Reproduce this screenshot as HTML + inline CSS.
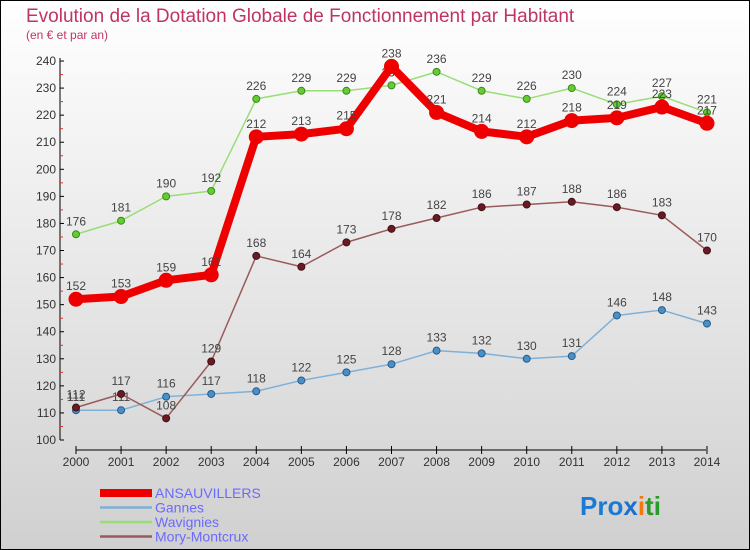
<!DOCTYPE html>
<html><head><meta charset="utf-8"><style>
body{margin:0}
svg{display:block;font-family:"Liberation Sans",sans-serif}
</style></head><body>
<svg width="750" height="550">
<defs><linearGradient id="bg" x1="0" y1="0" x2="0" y2="1"><stop offset="0" stop-color="#ffffff"/><stop offset="1" stop-color="#d0d0d0"/></linearGradient></defs>
<rect x="0.5" y="0.5" width="749" height="549" fill="url(#bg)" stroke="#000"/>
<text x="26" y="22" font-size="19" fill="#c0355f">Evolution de la Dotation Globale de Fonctionnement par Habitant</text>
<text x="26" y="39" font-size="12" fill="#c0355f">(en € et par an)</text>
<g id="axes"></g><g id="series"></g><g id="legend"></g>
<text x="580" y="515" font-size="26" font-weight="bold"><tspan fill="#1a7ad4">Pro</tspan><tspan fill="#1a6fd0">x</tspan><tspan fill="#f07a10">i</tspan><tspan fill="#2a9a2a">ti</tspan></text>
</svg>
<script>
const years=[2000,2001,2002,2003,2004,2005,2006,2007,2008,2009,2010,2011,2012,2013,2014];
const yTicks=[100,110,120,130,140,150,160,170,180,190,200,210,220,230,240];
const ansauvillers=[152,153,159,161,212,213,215,238,221,214,212,218,219,223,217];
const gannes=[111,111,116,117,118,122,125,128,133,132,130,131,146,148,143];
const wavignies=[176,181,190,192,226,229,229,231,236,229,226,230,224,227,221];
const mory=[112,117,108,129,168,164,173,178,182,186,187,188,186,183,170];
const names=["ANSAUVILLERS","Gannes","Wavignies","Mory-Montcrux"];
const NS="http://www.w3.org/2000/svg";
const x=i=>76+i*45.07;
const y=v=>440-(v-100)*2.707;
function mk(p,t,a){const e=document.createElementNS(NS,t);for(const k in a)e.setAttribute(k,a[k]);p.appendChild(e);return e;}
const ax=document.getElementById('axes');
let l=mk(ax,'line',{x1:60,y1:58,x2:60,y2:440,stroke:'#000'});


l=mk(ax,'line',{x1:76,y1:450,x2:706,y2:450,stroke:'#000'});


yTicks.forEach(v=>{
 mk(ax,'line',{x1:60,y1:y(v),x2:64,y2:y(v),stroke:'#000'});
 if(v<240)mk(ax,'line',{x1:60,y1:y(v+5),x2:63,y2:y(v+5),stroke:'#e03030'});
 const t=mk(ax,'text',{x:56,y:y(v)+4,'font-size':12,'text-anchor':'end',fill:'#333'});t.textContent=v;
 
 
});
years.forEach((yr,i)=>{
 mk(ax,'line',{x1:x(i),y1:446,x2:x(i),y2:454,stroke:'#000'});
 const t=mk(ax,'text',{x:x(i),y:466,'font-size':12,'text-anchor':'middle',fill:'#333'});t.textContent=yr;
 
 
});
const sg=document.getElementById('series');
function series(data,color,w,r,dot,name,lc){
 const g=mk(sg,'g',{});
 
 
 mk(g,'polyline',{points:data.map((v,i)=>x(i)+','+y(v)).join(' '),fill:'none',stroke:color,'stroke-width':w,'stroke-linejoin':'round'});
 data.forEach((v,i)=>{
  const c=mk(g,'circle',{cx:x(i),cy:y(v),r:r,fill:dot,stroke:lc,'stroke-width':1});
  
  
  const t=mk(g,'text',{x:x(i),y:y(v)-9,'font-size':12,'text-anchor':'middle',fill:'#444'});t.textContent=v;
  
  
 });
}
series(gannes,'#7fb0d8',1.5,3.5,'#4a90c8','series-gannes','#2a5a88');
series(mory,'#9a5a5a',1.5,3.5,'#6a1a22','series-mory-montcrux','#401018');
series(wavignies,'#99dd77',1.5,3.5,'#66cc33','series-wavignies','#3a8a1a');
series(ansauvillers,'#ee0000',8,7,'#ee0000','series-ansauvillers','#ee0000');
const lg=document.getElementById('legend');
const lcol=['#ee0000','#7fb0d8','#99dd77','#9a5a5a'];const lw=[8,2.5,2.5,2.5];
names.forEach((n,i)=>{
 const g=mk(lg,'g',{});
 
 
 const yy=493+i*14.5;
 mk(g,'line',{x1:100,y1:yy,x2:152,y2:yy,stroke:lcol[i],'stroke-width':lw[i]});
 const t=mk(g,'text',{x:155,y:yy+5,'font-size':14,fill:'#6a6aff'});t.textContent=n;
});
</script>
</body></html>
